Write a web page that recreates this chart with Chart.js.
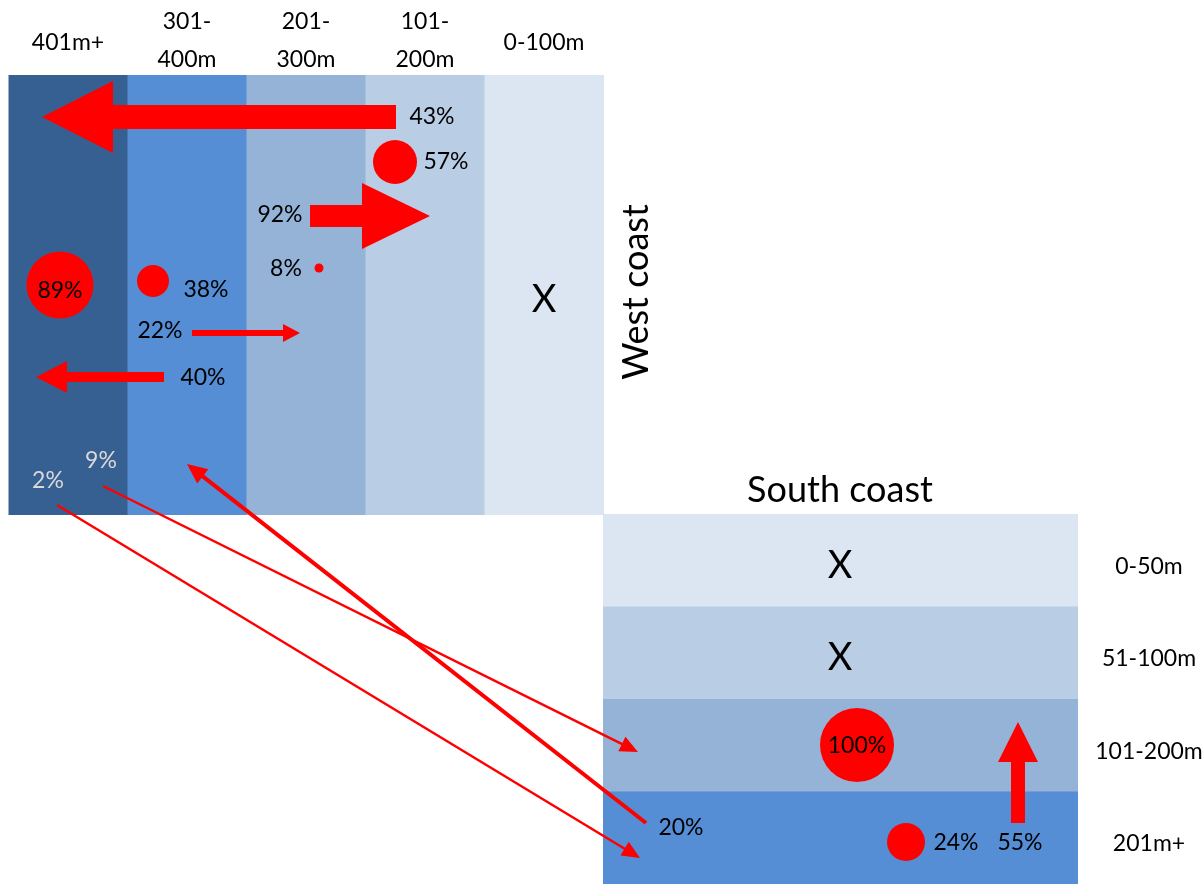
<!DOCTYPE html>
<html><head><meta charset="utf-8">
<script src="https://cdn.jsdelivr.net/npm/chart.js@4/dist/chart.umd.min.js"></script>
<style>html,body{margin:0;padding:0;background:#fff;overflow:hidden}canvas{display:block}</style>
</head><body><canvas id="c" width="1204" height="884"></canvas>
<script>
// ---------- DATA ----------
const westZones = ['401m+', '301-400m', '201-300m', '101-200m', '0-100m'];
const westHeaderLines = [['401m+'], ['301-', '400m'], ['201-', '300m'], ['101-', '200m'], ['0-100m']];
const southZones = ['0-50m', '51-100m', '101-200m', '201m+'];
// share staying in a zone (circle); null = not sampled (X)
const westStay = [89, 38, 8, 57, null];
const southStay = [null, null, 100, 24];
// movements inside the West coast
const westMoveFrom = ['101-200m', '201-300m', '301-400m', '301-400m'];
const westMoveTo = ['401m+', '101-200m', '201-300m', '401m+'];
const westMovePct = [43, 92, 22, 40];
// movements between coasts / inside South coast
const crossFrom = ['W:401m+', 'W:401m+', 'S:201m+', 'S:201m+'];
const crossTo = ['S:201m+', 'S:101-200m', 'W:301-400m', 'S:101-200m'];
const crossPct = [2, 9, 20, 55];

// ---------- LAYOUT / STYLE (data-space units of the hidden scales) ----------
const W = { x0: 8.5, colW: 119, top: 75, bottom: 515 };
const S = { x0: 603, x1: 1078, top: 514, rowH: 92.5 };
const westColors = ['#376092', '#558ED5', '#95B3D7', '#B9CDE5', '#DCE6F2'];
const southColors = ['#DCE6F2', '#B9CDE5', '#95B3D7', '#558ED5'];
const RED = '#FF0000';
const westStayGeom = [{x:60,y:285,r:33.5,lx:60,ly:291},{x:153,y:281,r:16,lx:206,ly:290},{x:319,y:268,r:4.5,lx:286,ly:269},{x:395,y:162,r:22,lx:446,ly:162},null];
const southStayGeom = [null, null, {x:857,y:745,r:37,lx:857,ly:746},{x:906,y:842,r:19,lx:956,ly:843}];
const westMoveGeom = [
  {tx:396,ty:117,hx:42,hy:117,sw:24,hl:71,hw:36,lx:432,ly:117},
  {tx:310,ty:216,hx:430,hy:216,sw:22,hl:68,hw:33,lx:280,ly:215},
  {tx:192,ty:333,hx:300,hy:333,sw:6,hl:17,hw:9,lx:160,ly:331},
  {tx:164,ty:377,hx:36,hy:377,sw:10,hl:31,hw:16,lx:203,ly:378}
];
const crossGeom = [
  {type:'line',tx:57,ty:505,hx:640,hy:858,lw:2.5,hl:18,hw:8,lx:48,ly:481,color:'#D9D9D9'},
  {type:'line',tx:103,ty:486,hx:638,hy:752,lw:2.5,hl:18,hw:8,lx:101,ly:461,color:'#D9D9D9'},
  {type:'line',tx:646,ty:823,hx:187,hy:464,lw:4,hl:20,hw:9,lx:681,ly:828,color:'#000'},
  {type:'block',tx:1018,ty:823,hx:1018,hy:722,sw:14,hl:40,hw:20,lx:1020,ly:843,color:'#000'}
];
const FONT = 'Lato, "Open Sans", sans-serif';

// bubble points (circles) from the stay arrays
const bubbleData = [];
westStay.forEach((v, i) => { if (v != null) { const g = westStayGeom[i]; bubbleData.push({x:g.x, y:g.y, r:g.r}); } });
southStay.forEach((v, i) => { if (v != null) { const g = southStayGeom[i]; bubbleData.push({x:g.x, y:g.y, r:g.r}); } });

function blockArrow(ctx, x1, y1, x2, y2, sw, hl, hw) {
  const dx = x2 - x1, dy = y2 - y1, L = Math.hypot(dx, dy);
  const ux = dx / L, uy = dy / L, px = -uy, py = ux;
  const bx = x2 - ux * hl, by = y2 - uy * hl;
  ctx.beginPath();
  ctx.moveTo(x1 + px * sw / 2, y1 + py * sw / 2);
  ctx.lineTo(bx + px * sw / 2, by + py * sw / 2);
  ctx.lineTo(bx + px * hw, by + py * hw);
  ctx.lineTo(x2, y2);
  ctx.lineTo(bx - px * hw, by - py * hw);
  ctx.lineTo(bx - px * sw / 2, by - py * sw / 2);
  ctx.lineTo(x1 - px * sw / 2, y1 - py * sw / 2);
  ctx.closePath();
  ctx.fill();
}
function lineArrow(ctx, x1, y1, x2, y2, lw, hl, hw) {
  const dx = x2 - x1, dy = y2 - y1, L = Math.hypot(dx, dy);
  const ux = dx / L, uy = dy / L, px = -uy, py = ux;
  const bx = x2 - ux * hl, by = y2 - uy * hl;
  ctx.lineWidth = lw;
  ctx.beginPath(); ctx.moveTo(x1, y1); ctx.lineTo(bx + ux * 2, by + uy * 2); ctx.stroke();
  ctx.beginPath(); ctx.moveTo(x2, y2); ctx.lineTo(bx + px * hw, by + py * hw); ctx.lineTo(bx - px * hw, by - py * hw); ctx.closePath(); ctx.fill();
}

const diagramPlugin = {
  id: 'diagram',
  beforeDatasetsDraw(chart) {
    const { ctx, scales: { x, y } } = chart;
    const X = v => x.getPixelForValue(v), Y = v => y.getPixelForValue(v);
    ctx.save();
    westZones.forEach((z, i) => {
      ctx.fillStyle = westColors[i];
      const a = X(W.x0 + i * W.colW), b = X(W.x0 + (i + 1) * W.colW);
      ctx.fillRect(a, Y(W.top), b - a + 0.5, Y(W.bottom) - Y(W.top));
    });
    southZones.forEach((z, i) => {
      ctx.fillStyle = southColors[i];
      const t = Y(S.top + i * S.rowH), bt = Y(S.top + (i + 1) * S.rowH);
      ctx.fillRect(X(S.x0), t, X(S.x1) - X(S.x0), bt - t + 0.5);
    });
    ctx.fillStyle = RED; ctx.strokeStyle = RED;
    westMovePct.forEach((p, i) => {
      const g = westMoveGeom[i];
      blockArrow(ctx, X(g.tx), Y(g.ty), X(g.hx), Y(g.hy), g.sw, g.hl, g.hw);
    });
    crossPct.forEach((p, i) => {
      const g = crossGeom[i];
      if (g.type === 'line') lineArrow(ctx, X(g.tx), Y(g.ty), X(g.hx), Y(g.hy), g.lw, g.hl, g.hw);
      else blockArrow(ctx, X(g.tx), Y(g.ty), X(g.hx), Y(g.hy), g.sw, g.hl, g.hw);
    });
    ctx.restore();
  },
  afterDatasetsDraw(chart) {
    const { ctx, scales: { x, y } } = chart;
    const X = v => x.getPixelForValue(v), Y = v => y.getPixelForValue(v);
    ctx.save();
    ctx.textAlign = 'center'; ctx.textBaseline = 'middle';
    ctx.fillStyle = '#000';
    ctx.font = '23px ' + FONT;
    westHeaderLines.forEach((lines, i) => {
      const cx = X(W.x0 + (i + 0.5) * W.colW);
      if (lines.length === 1) ctx.fillText(lines[0], cx, Y(43));
      else { ctx.fillText(lines[0], cx, Y(22)); ctx.fillText(lines[1], cx, Y(60)); }
    });
    southZones.forEach((z, i) => ctx.fillText(z, X(1149), Y(S.top + (i + 0.5) * S.rowH + 6)));
    westStay.forEach((v, i) => { if (v != null) { const g = westStayGeom[i]; ctx.fillStyle = '#000'; ctx.fillText(v + '%', X(g.lx), Y(g.ly)); } });
    southStay.forEach((v, i) => { if (v != null) { const g = southStayGeom[i]; ctx.fillStyle = '#000'; ctx.fillText(v + '%', X(g.lx), Y(g.ly)); } });
    westMovePct.forEach((v, i) => { const g = westMoveGeom[i]; ctx.fillStyle = '#000'; ctx.fillText(v + '%', X(g.lx), Y(g.ly)); });
    crossPct.forEach((v, i) => { const g = crossGeom[i]; ctx.fillStyle = g.color; ctx.fillText(v + '%', X(g.lx), Y(g.ly)); });
    ctx.fillStyle = '#000';
    ctx.font = '38px ' + FONT;
    westStay.forEach((v, i) => { if (v == null) ctx.fillText('X', X(W.x0 + (i + 0.5) * W.colW), Y(300)); });
    southStay.forEach((v, i) => { if (v == null) ctx.fillText('X', X(840), Y(S.top + (i + 0.5) * S.rowH + 5)); });
    ctx.font = '36px ' + FONT;
    ctx.fillText('South coast', X(840), Y(490));
    ctx.save();
    ctx.translate(X(636), Y(292));
    ctx.rotate(-Math.PI / 2);
    ctx.fillText('West coast', 0, 0);
    ctx.restore();
    ctx.restore();
  }
};

new Chart(document.getElementById('c'), {
  type: 'bubble',
  data: { datasets: [{ data: bubbleData, backgroundColor: RED, borderWidth: 0, hoverRadius: 0, clip: false }] },
  options: {
    responsive: false, animation: false, devicePixelRatio: 1, events: [],
    layout: { padding: 0, autoPadding: false },
    plugins: { legend: { display: false }, tooltip: { enabled: false } },
    scales: {
      x: { type: 'linear', min: 0, max: 1204, display: false },
      y: { type: 'linear', min: 0, max: 884, reverse: true, display: false }
    }
  },
  plugins: [diagramPlugin]
});
</script></body></html>
